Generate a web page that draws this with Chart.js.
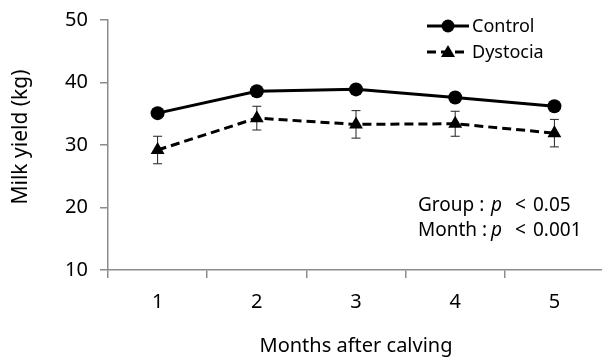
<!DOCTYPE html>
<html>
<head>
<meta charset="utf-8">
<script src="https://cdn.jsdelivr.net/npm/chart.js@4.4.1/dist/chart.umd.min.js"></script>
<style>
  html, body { margin: 0; padding: 0; background: #fff; overflow: hidden; }
  #wrap { width: 612px; height: 358px; }
</style>
</head>
<body>
<div id="wrap"><canvas id="chart" width="612" height="358"></canvas></div>
<script>
// Monthly milk yield (kg) after calving, mean ± SE
const months = ['1', '2', '3', '4', '5'];
const controlYield = [35.1, 38.6, 38.9, 37.6, 36.2];
const controlSE = [0.6, 0.6, 0.7, 0.7, 0.6];
const dystociaYield = [29.2, 34.3, 33.3, 33.4, 31.9];
const dystociaSE = [2.2, 1.9, 2.2, 2.0, 2.2];
const yTicks = [10, 20, 30, 40, 50];
const yTitle = 'Milk yield (kg)';
const xTitle = 'Months after calving';
const statLines = [
  { label: 'Group :', p: 'p', op: '<', value: '0.05' },
  { label: 'Month :', p: 'p', op: '<', value: '0.001' }
];

const FONT = '"Noto Sans", "DejaVu Sans", sans-serif';
const AXIS_GREY = '#8c8c8c';

// Vertical error bars with caps, drawn beneath the markers
const errorBars = {
  id: 'errorBars',
  beforeDatasetsDraw(chart) {
    const { ctx, scales: { x, y } } = chart;
    chart.data.datasets.forEach(ds => {
      const se = ds.se;
      if (!se) return;
      ctx.save();
      ctx.strokeStyle = '#222';
      ctx.lineWidth = 1;
      ds.data.forEach((v, j) => {
        const px = x.getPixelForValue(j);
        const top = y.getPixelForValue(v + se[j]);
        const bot = y.getPixelForValue(v - se[j]);
        ctx.beginPath();
        ctx.moveTo(px, top); ctx.lineTo(px, bot);
        ctx.moveTo(px - 4.5, top); ctx.lineTo(px + 4.5, top);
        ctx.moveTo(px - 4.5, bot); ctx.lineTo(px + 4.5, bot);
        ctx.stroke();
      });
      ctx.restore();
    });
  }
};

// Y axis title, legend with line samples and markers, significance note
const notes = {
  id: 'notes',
  afterDraw(chart) {
    const { ctx } = chart;
    ctx.save();
    ctx.fillStyle = '#000';
    ctx.textBaseline = 'middle';

    ctx.save();
    ctx.translate(21, 137);
    ctx.rotate(-Math.PI / 2);
    ctx.textAlign = 'center';
    ctx.font = '21px ' + FONT;
    ctx.fillText(yTitle, 0, 0);
    ctx.restore();

    ctx.font = '18px ' + FONT;
    const rows = [
      { ds: chart.data.datasets[0], y: 26 },
      { ds: chart.data.datasets[1], y: 52 }
    ];
    rows.forEach(r => {
      ctx.strokeStyle = '#000';
      ctx.lineWidth = 3;
      ctx.setLineDash(r.ds.borderDash || []);
      ctx.beginPath();
      ctx.moveTo(427, r.y); ctx.lineTo(469, r.y);
      ctx.stroke();
      ctx.setLineDash([]);
      ctx.beginPath();
      if (r.ds.pointStyle === 'triangle') {
        ctx.moveTo(448, r.y - 7);
        ctx.lineTo(455, r.y + 5);
        ctx.lineTo(441, r.y + 5);
        ctx.closePath();
      } else {
        ctx.arc(448, r.y, 6.5, 0, Math.PI * 2);
      }
      ctx.fill();
      ctx.fillText(r.ds.label, 472, r.y + 1);
    });

    let ty = 206;
    statLines.forEach(s => {
      ctx.font = '19px ' + FONT;
      ctx.fillText(s.label, 418, ty);
      ctx.font = 'italic 19px ' + FONT;
      ctx.fillText(s.p, 491, ty);
      ctx.font = '19px ' + FONT;
      ctx.fillText(s.op, 515, ty);
      ctx.fillText(s.value, 533, ty);
      ty += 25;
    });
    ctx.restore();
  }
};

new Chart(document.getElementById('chart'), {
  type: 'line',
  data: {
    labels: months,
    datasets: [
      {
        label: 'Control',
        data: controlYield,
        se: controlSE,
        borderColor: '#000',
        backgroundColor: '#000',
        borderWidth: 3,
        pointStyle: 'circle',
        pointRadius: 7,
        pointBorderWidth: 0,
        tension: 0
      },
      {
        label: 'Dystocia',
        data: dystociaYield,
        se: dystociaSE,
        borderColor: '#000',
        backgroundColor: '#000',
        borderWidth: 3,
        borderDash: [9, 5],
        pointStyle: 'triangle',
        pointRadius: 8,
        pointBorderWidth: 0,
        tension: 0
      }
    ]
  },
  options: {
    responsive: false,
    animation: false,
    layout: { padding: { top: 20, right: 0, left: 0, bottom: 0 } },
    plugins: {
      legend: { display: false },
      tooltip: { enabled: false }
    },
    scales: {
      x: {
        type: 'category',
        offset: true,
        grid: {
          display: true,
          offset: true,
          drawOnChartArea: false,
          drawTicks: true,
          tickLength: 8,
          color: AXIS_GREY,
          lineWidth: 1.5
        },
        border: { color: AXIS_GREY, width: 1.5 },
        ticks: {
          color: '#000',
          padding: 12,
          font: { family: FONT, size: 20 }
        },
        title: {
          display: true,
          text: xTitle,
          color: '#000',
          font: { family: FONT, size: 20 },
          padding: { top: 0, bottom: 0 }
        },
        afterFit(scale) {
          scale.height = 88;
          scale.paddingLeft = 0;
          scale.paddingRight = 0;
        }
      },
      y: {
        min: 10,
        max: 50,
        afterBuildTicks(scale) { scale.ticks = yTicks.map(v => ({ value: v })); },
        grid: {
          display: true,
          drawOnChartArea: false,
          drawTicks: true,
          tickLength: 8,
          color: AXIS_GREY,
          lineWidth: 1.5
        },
        border: { color: AXIS_GREY, width: 1.5 },
        ticks: {
          color: '#000',
          padding: 12,
          font: { family: FONT, size: 20 }
        },
        title: { display: false },
        afterFit(scale) {
          scale.width = 108;
          scale.paddingTop = 0;
          scale.paddingBottom = 0;
        }
      }
    }
  },
  plugins: [errorBars, notes]
});
</script>
</body>
</html>
